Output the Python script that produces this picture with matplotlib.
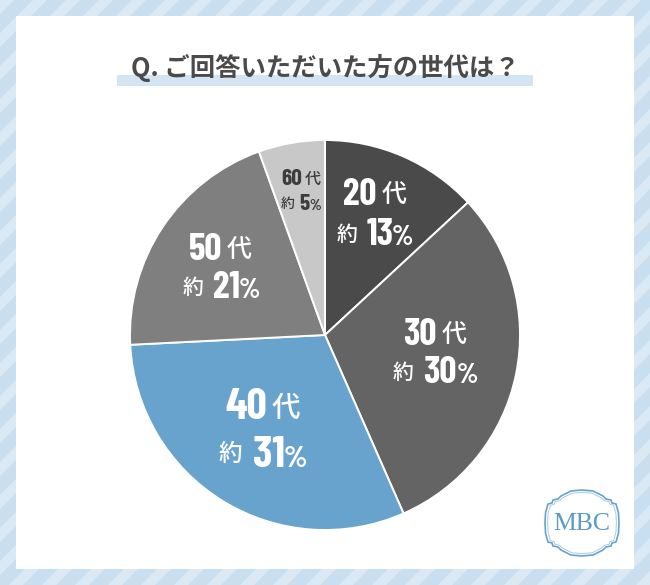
import matplotlib
matplotlib.use("Agg")
import numpy as np
import matplotlib.pyplot as plt
from matplotlib.patches import Polygon, Rectangle

plt.rcParams['font.family'] = ['Noto Sans CJK JP', 'DejaVu Sans']
NARROW = ['Barlow Condensed', 'Liberation Sans']

W, H = 650, 585

decades = ["20", "30", "40", "50", "60"]
percents = ["13", "30", "31", "21", "5"]
shares = [13.1, 30.3, 30.8, 20.3, 5.5]
slice_colors = ["#4a4a4a", "#646464", "#68a3cd", "#7f7f7f", "#c8c8c8"]
text_colors = ["white", "white", "white", "white", "#3c3c3c"]

# label pieces in image pixels: left edges and baselines
decade_x = [343, 403, 225, 189, 281]
dai_x = [382, 442, 271, 227, 305]
row1_base = [205, 345, 419, 260, 185]
yaku_x = [337, 393, 219, 183, 281]
pct_x = [367, 423, 253, 213, 299]
sign_x = [392, 457, 284, 239, 309]
row2_base = [245, 383, 467, 298, 210]
num_size = [27, 27, 32, 27, 16.7]
kanji_size = [18, 18, 20.5, 18, 11.5]
yaku_size = [15, 15, 17, 15, 10]
sign_size = [20, 20, 22, 20, 11]


def to_y(y):
    return H - y


fig = plt.figure(figsize=(W / 100, H / 100), dpi=100)
bg = fig.add_axes([0, 0, 1, 1])
bg.set_xlim(0, W)
bg.set_ylim(0, H)
bg.axis("off")

# striped frame
bg.add_patch(Rectangle((0, 0), W, H, color="#c9dfef", zorder=0))
for x0 in np.arange(-H, W + H, 33):
    bg.add_patch(Polygon([(x0, 0), (x0 + 14, 0), (x0 + 14 + H, H), (x0 + H, H)],
                         color="#dbe9f5", lw=0, zorder=1))
bg.add_patch(Rectangle((16, 16), 618, 553, color="white", lw=0, zorder=2))

# title with marker underline
bg.add_patch(Rectangle((117, to_y(85.5)), 416, 10.5, color="#d3e5f2", lw=0, zorder=3))
bg.text(325, to_y(67.5), "Q. ご回答いただいた方の世代は？", fontsize=18.3, fontweight="bold",
        color="#4a4a4a", ha="center", va="center", zorder=4)

# logo: stepped medallion outline, one quadrant mirrored round the centre
lx, ly = 582, to_y(523)
quad = np.array([(0, 33), (11, 32), (21, 27), (24, 24), (29, 23), (30, 20), (34, 19),
                 (36.5, 10), (37, 0)])
outline = np.vstack([quad, quad[-2::-1] * [1, -1], quad[1:] * [-1, -1], quad[-2:0:-1] * [-1, 1]])
bg.add_patch(Polygon(outline + [lx, ly], closed=True, fill=False, ec="#68a3cd", lw=1.2, zorder=4))
bg.add_patch(Polygon(outline * 0.93 + [lx, ly], closed=True, fill=False, ec="#a9cbe4", lw=0.7, zorder=4))
bg.text(lx, ly - 1, "MBC", family="Liberation Serif", fontsize=18.5, color="#5b9bc8",
        ha="center", va="center", zorder=5)

# pie, centre (325, 335) radius 195 in image pixels
r = 195
cx, cy = 325, 335
ax = fig.add_axes([(cx - r) / W, (H - cy - r) / H, 2 * r / W, 2 * r / H])
ax.pie(shares, colors=slice_colors, startangle=90, counterclock=False, radius=1,
       wedgeprops={"edgecolor": "white", "linewidth": 1.4})
ax.set_xlim(-1, 1)
ax.set_ylim(-1, 1)
ax.axis("off")

# labels sit above the pie
top = fig.add_axes([0, 0, 1, 1], facecolor="none")
top.set_xlim(0, W)
top.set_ylim(0, H)
top.axis("off")

for i in range(len(decades)):
    c = text_colors[i]
    y1 = to_y(row1_base[i])
    y2 = to_y(row2_base[i])
    top.text(decade_x[i], y1, decades[i], family=NARROW, fontsize=num_size[i], fontweight="bold",
             color=c, ha="left", va="baseline")
    top.text(dai_x[i], y1 + num_size[i] * 0.33, "代", fontsize=kanji_size[i], fontweight="medium",
             color=c, ha="left", va="center")
    top.text(yaku_x[i], y2 + num_size[i] * 0.38, "約", fontsize=yaku_size[i], fontweight="medium",
             color=c, ha="left", va="center")
    top.text(pct_x[i], y2, percents[i], family=NARROW, fontsize=num_size[i], fontweight="bold",
             color=c, ha="left", va="baseline")
    top.text(sign_x[i], y2, "%", family=NARROW, fontsize=sign_size[i], fontweight="bold",
             color=c, ha="left", va="baseline")

fig.savefig("out.png", dpi=100)
plt.close(fig)
